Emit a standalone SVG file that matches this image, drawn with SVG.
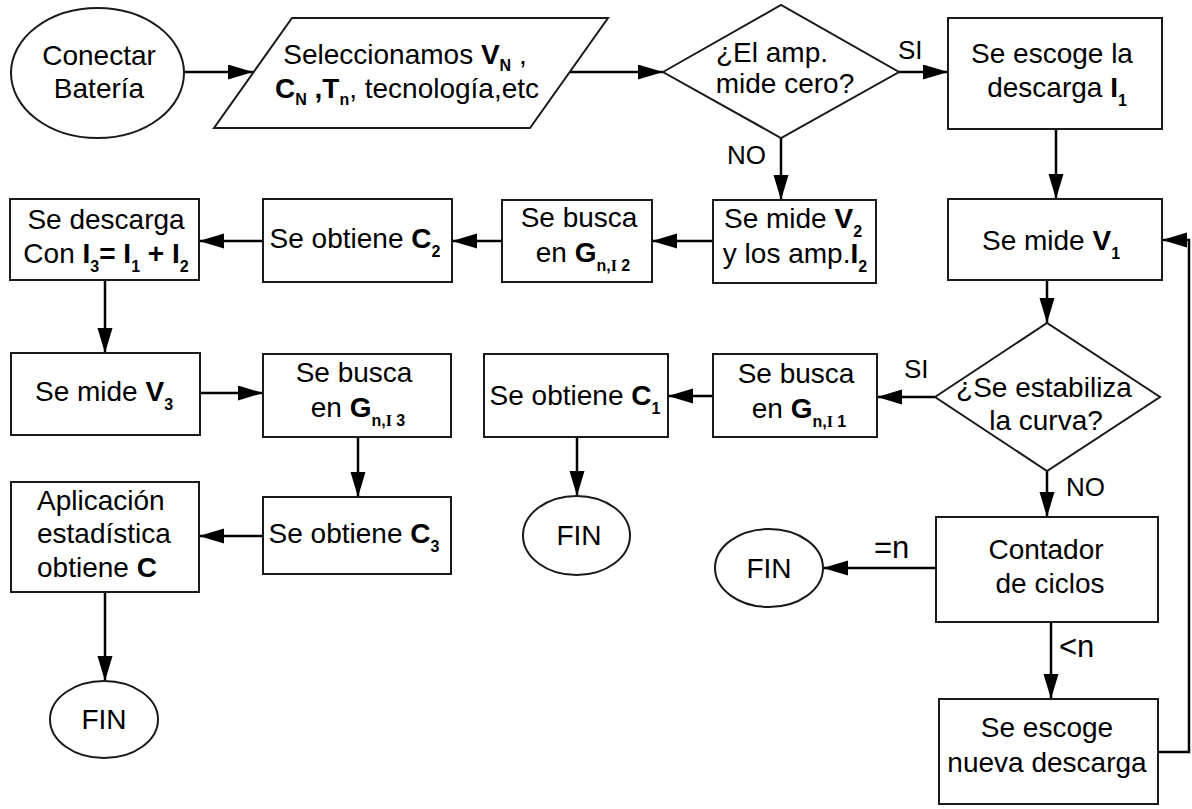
<svg xmlns="http://www.w3.org/2000/svg" width="1192" height="809" viewBox="0 0 1192 809">
<style>
.n{fill:#fff;stroke:#1a1a1a;stroke-width:2}
.t{font-family:"Liberation Sans",Arial,sans-serif;font-size:28px;fill:#000;text-anchor:middle}
.ts{font-family:"Liberation Sans",Arial,sans-serif;font-size:28px;fill:#000;text-anchor:start}
.l{font-family:"Liberation Sans",Arial,sans-serif;font-size:26px;fill:#000}
.big{font-family:"Liberation Sans",Arial,sans-serif;font-size:31px;fill:#000}
.b{font-weight:bold}
.s{font-size:16px;font-weight:bold}
.sf{font-family:"Liberation Serif",serif}
.c{fill:none;stroke:#000;stroke-width:2.5}
</style>
<defs>
<marker id="a" markerUnits="userSpaceOnUse" markerWidth="26" markerHeight="16" refX="25" refY="7.5" orient="auto">
<path d="M0,0 L25,7.5 L0,15 z" fill="#000"/>
</marker>
</defs>
<g id="connectors">
<line class="c" x1="184" y1="72" x2="253" y2="72" marker-end="url(#a)"/>
<line class="c" x1="570" y1="72" x2="663" y2="72" marker-end="url(#a)"/>
<line class="c" x1="899" y1="72" x2="948" y2="72" marker-end="url(#a)"/>
<line class="c" x1="781" y1="138" x2="781" y2="200" marker-end="url(#a)"/>
<line class="c" x1="1056" y1="129" x2="1056" y2="199" marker-end="url(#a)"/>
<line class="c" x1="713" y1="241" x2="652" y2="241" marker-end="url(#a)"/>
<line class="c" x1="502" y1="241" x2="452" y2="241" marker-end="url(#a)"/>
<line class="c" x1="263" y1="241" x2="199" y2="241" marker-end="url(#a)"/>
<line class="c" x1="105" y1="280" x2="105" y2="353" marker-end="url(#a)"/>
<line class="c" x1="200" y1="393" x2="263" y2="393" marker-end="url(#a)"/>
<line class="c" x1="358" y1="437" x2="358" y2="497" marker-end="url(#a)"/>
<line class="c" x1="263" y1="536" x2="199" y2="536" marker-end="url(#a)"/>
<line class="c" x1="105" y1="592" x2="105" y2="681" marker-end="url(#a)"/>
<line class="c" x1="1047" y1="280" x2="1047" y2="323" marker-end="url(#a)"/>
<line class="c" x1="935" y1="397" x2="877" y2="397" marker-end="url(#a)"/>
<line class="c" x1="713" y1="396" x2="668" y2="396" marker-end="url(#a)"/>
<line class="c" x1="577" y1="437" x2="577" y2="496" marker-end="url(#a)"/>
<line class="c" x1="1047" y1="471" x2="1047" y2="517" marker-end="url(#a)"/>
<line class="c" x1="936" y1="568" x2="823" y2="568" marker-end="url(#a)"/>
<line class="c" x1="1051" y1="622" x2="1051" y2="699" marker-end="url(#a)"/>
<polyline class="c" points="1158,752 1189,752 1189,240 1162,240" marker-end="url(#a)"/>
<text class="l" x="898" y="59">SI</text>
<text class="l" x="727" y="164">NO</text>
<text class="l" x="904" y="378">SI</text>
<text class="l" x="1066" y="496">NO</text>
<text class="big" x="874" y="558">=n</text>
<text class="big" x="1059" y="657">&lt;n</text>
</g>
<g id="start">
<ellipse class="n" cx="97.5" cy="73" rx="86.5" ry="65"/>
<text class="t" x="99" y="65">Conectar</text>
<text class="t" x="99" y="98">Batería</text>
</g>
<g id="input">
<polygon class="n" points="292,18 608,18 530,128 214,128"/>
<text class="t" x="405" y="64">Seleccionamos <tspan class="b">V</tspan><tspan class="s" dy="7">N</tspan><tspan dy="-7"> ,</tspan></text>
<text class="t" x="407" y="98"><tspan class="b">C</tspan><tspan class="s" dy="7">N</tspan><tspan class="b" dy="-7"> ,T</tspan><tspan class="s" dy="7">n</tspan><tspan dy="-7">, tecnología,etc</tspan></text>
</g>
<g id="dec1">
<polygon class="n" points="663,72 781,5 899,72 781,138"/>
<text class="t" x="772" y="62">¿El amp.</text>
<text class="t" x="785" y="93">mide cero?</text>
</g>
<g id="escoge1">
<rect class="n" x="948" y="18" width="214" height="111"/>
<text class="t" x="1052" y="63">Se escoge la</text>
<text class="t" x="1057" y="97">descarga <tspan class="b">I</tspan><tspan class="s" dy="9">1</tspan></text>
</g>
<g id="mideV1">
<rect class="n" x="948" y="199" width="214" height="81"/>
<text class="t" x="1051" y="250">Se mide <tspan class="b">V</tspan><tspan class="s" dy="9">1</tspan></text>
</g>
<g id="mideV2">
<rect class="n" x="713" y="200" width="163" height="83"/>
<text class="t" x="793" y="228">Se mide <tspan class="b">V</tspan><tspan class="s" dy="9">2</tspan></text>
<text class="t" x="795" y="263">y los amp.<tspan class="b">I</tspan><tspan class="s" dy="9">2</tspan></text>
</g>
<g id="buscaI2">
<rect class="n" x="502" y="200" width="150" height="82"/>
<text class="t" x="579" y="227">Se busca</text>
<text class="t" x="583" y="262">en <tspan class="b">G</tspan><tspan class="s" dy="9">n,<tspan class="sf">I</tspan> 2</tspan></text>
</g>
<g id="obtieneC2">
<rect class="n" x="263" y="199" width="189" height="83"/>
<text class="t" x="355" y="248">Se obtiene <tspan class="b">C</tspan><tspan class="s" dy="9">2</tspan></text>
</g>
<g id="descarga3">
<rect class="n" x="10" y="199" width="189" height="81"/>
<text class="t" x="106" y="229">Se descarga</text>
<text class="t" x="106" y="263">Con <tspan class="b">I</tspan><tspan class="s" dy="9">3</tspan><tspan class="b" dy="-9">= I</tspan><tspan class="s" dy="9">1</tspan><tspan class="b" dy="-9"> + I</tspan><tspan class="s" dy="9">2</tspan></text>
</g>
<g id="mideV3">
<rect class="n" x="11" y="353" width="189" height="82"/>
<text class="t" x="104" y="401">Se mide <tspan class="b">V</tspan><tspan class="s" dy="9">3</tspan></text>
</g>
<g id="buscaI3">
<rect class="n" x="263" y="354" width="188" height="83"/>
<text class="t" x="354" y="382">Se busca</text>
<text class="t" x="358" y="417">en <tspan class="b">G</tspan><tspan class="s" dy="9">n,<tspan class="sf">I</tspan> 3</tspan></text>
</g>
<g id="obtieneC3">
<rect class="n" x="263" y="497" width="188" height="77"/>
<text class="t" x="354" y="543">Se obtiene <tspan class="b">C</tspan><tspan class="s" dy="9">3</tspan></text>
</g>
<g id="aplicacion">
<rect class="n" x="11" y="482" width="188" height="110"/>
<text class="ts" x="37" y="510">Aplicación</text>
<text class="ts" x="37" y="543">estadística</text>
<text class="ts" x="37" y="577">obtiene <tspan class="b">C</tspan></text>
</g>
<g id="fin1">
<ellipse class="n" cx="104" cy="719.5" rx="54" ry="38.5"/>
<text class="t" x="104" y="729">FIN</text>
</g>
<g id="dec2">
<polygon class="n" points="935,397 1047,323 1160,397 1047,471"/>
<text class="t" x="1044" y="397">¿Se estabiliza</text>
<text class="t" x="1046" y="430">la curva?</text>
</g>
<g id="buscaI1">
<rect class="n" x="713" y="354" width="164" height="83"/>
<text class="t" x="796" y="383">Se busca</text>
<text class="t" x="799" y="418">en <tspan class="b">G</tspan><tspan class="s" dy="9">n,<tspan class="sf">I</tspan> 1</tspan></text>
</g>
<g id="obtieneC1">
<rect class="n" x="484" y="354" width="184" height="83"/>
<text class="t" x="575" y="405">Se obtiene <tspan class="b">C</tspan><tspan class="s" dy="9">1</tspan></text>
</g>
<g id="fin2">
<ellipse class="n" cx="576.5" cy="535.5" rx="53.5" ry="39.5"/>
<text class="t" x="579" y="545">FIN</text>
</g>
<g id="contador">
<rect class="n" x="936" y="517" width="222" height="105"/>
<text class="t" x="1046" y="559">Contador</text>
<text class="t" x="1050" y="593">de ciclos</text>
</g>
<g id="fin3">
<ellipse class="n" cx="769" cy="568" rx="54" ry="39"/>
<text class="t" x="769" y="578">FIN</text>
</g>
<g id="nueva">
<rect class="n" x="939" y="699" width="219" height="105"/>
<text class="t" x="1047" y="737">Se escoge</text>
<text class="t" x="1047" y="772">nueva descarga</text>
</g>
</svg>
